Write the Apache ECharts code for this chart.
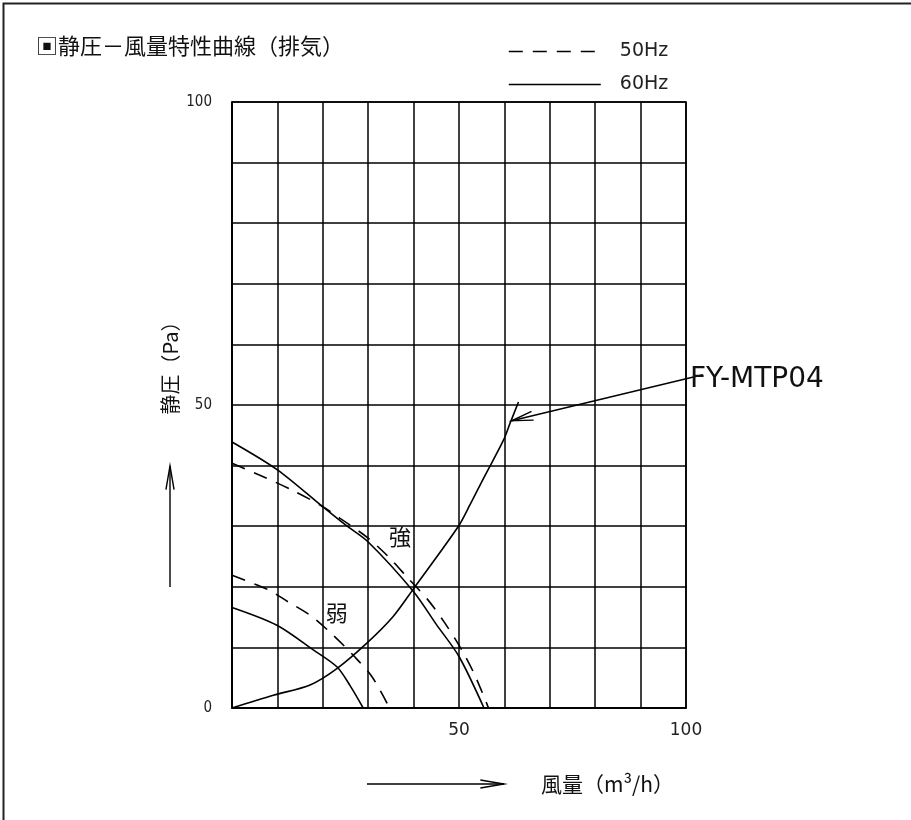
<!DOCTYPE html>
<html lang="ja">
<head>
<meta charset="UTF-8"/>
<script src="https://cdn.jsdelivr.net/npm/echarts@6/dist/echarts.min.js"></script>
<style>
  html, body { margin: 0; padding: 0; background: #fff; }
</style>
</head>
<body>
<div id="main" style="width: 911px;height:820px;"></div>
<script type="text/javascript">

    // 強 / 弱 の特性曲線（風量 m3/h, 静圧 Pa）
    var strong60X = [0, 10, 20, 25, 30, 40, 45, 50, 55.5];
    var strong60Y = [43.9, 39.3, 33.2, 30.2, 27.4, 19.2, 13.8, 8.5, 0];
    var strong50X = [0, 7.4, 13.1, 19.4, 23.8, 29.7, 34.4, 38.8, 43.2, 46.9, 50.6, 53.5, 56.5];
    var strong50Y = [40.4, 38, 36, 33.5, 31.3, 28.2, 25, 21.4, 17.8, 14, 9.6, 5.4, 0];
    var weak60X = [0, 9.8, 17.9, 23.1, 26, 28.9];
    var weak60Y = [16.6, 13.7, 9.6, 6.8, 3.7, 0];
    var weak50X = [0, 8, 12.4, 17.6, 22.3, 26.7, 30.8, 34.7];
    var weak50Y = [21.9, 19.5, 17.5, 15.1, 12, 8.7, 5.2, 0];
    // 機器の抵抗曲線 FY-MTP04
    var systemX = [0, 9.1, 17.2, 23.1, 29.7, 35.5, 40, 49.8, 52.4, 55.4, 59.8, 61.2, 63.1];
    var systemY = [0, 2.1, 3.8, 6.5, 10.7, 15.1, 19.7, 29.9, 33.5, 37.9, 44.2, 46.9, 50.5];

    var xTickLabels = ['50', '100'];
    var yTickLabels = ['0', '50', '100'];

    var titleText = '▣静圧－風量特性曲線（排気）';
    var xName = '風量（m³/h）';
    var yName = '静圧（Pa）';
    var modelName = 'FY-MTP04';

    var JP = '"Noto Sans CJK JP", "DejaVu Sans", sans-serif';
    var LAT = '"DejaVu Sans", sans-serif';

    function pairs(xs, ys) {
        return xs.map(function (x, i) { return [x, ys[i]]; });
    }

    function curve(name, xs, ys, dashed) {
        return {
            name: name,
            type: 'line',
            data: pairs(xs, ys),
            smooth: 0.3,
            symbol: 'none',
            clip: false,
            itemStyle: {color: '#000'},
            lineStyle: {color: '#000', width: 1.6, type: dashed ? [14, 10] : 'solid'},
            emphasis: {disabled: true}
        };
    }

    var myChart = echarts.init(document.getElementById('main'));

    var options = {
        animation: false,
        backgroundColor: '#fff',
        grid: {left: 232, top: 102, width: 454, height: 606, show: true, borderColor: '#000', borderWidth: 1.6},
        legend: {
            data: ['50Hz', '60Hz'],
            orient: 'vertical',
            left: 503,
            top: 37,
            itemWidth: 92,
            itemHeight: 12,
            itemGap: 14,
            selectedMode: false,
            itemStyle: {opacity: 0},
            lineStyle: {width: 1.6},
            textStyle: {fontSize: 19, fontFamily: LAT, color: '#222', padding: [0, 0, 0, 14]}
        },
        xAxis: {
            type: 'value', min: 0, max: 100, interval: 10,
            axisLine: {show: true, lineStyle: {color: '#000', width: 1.6}},
            axisTick: {show: false},
            splitLine: {show: true, lineStyle: {color: '#000', width: 1.5}},
            axisLabel: {
                margin: 14, fontSize: 17, fontFamily: LAT, color: '#222',
                formatter: function (v) { return xTickLabels.indexOf(String(v)) >= 0 ? String(v) : ''; }
            }
        },
        yAxis: {
            type: 'value', min: 0, max: 100, interval: 10,
            axisLine: {show: true, lineStyle: {color: '#000', width: 1.6}},
            axisTick: {show: false},
            splitLine: {show: true, lineStyle: {color: '#000', width: 1.5}},
            axisLabel: {
                margin: 20, fontSize: 15,
                fontFamily: '"Liberation Sans Narrow", "DejaVu Sans Condensed", sans-serif', color: '#222',
                formatter: function (v) { return yTickLabels.indexOf(String(v)) >= 0 ? String(v) : ''; }
            }
        },
        series: [
            curve('50Hz', strong50X, strong50Y, true),
            curve('50Hz', weak50X, weak50Y, true),
            curve('60Hz', strong60X, strong60Y, false),
            curve('60Hz', weak60X, weak60Y, false),
            curve(modelName, systemX, systemY, false)
        ]
    };

    myChart.setOption(options);

    // 注記（矢印・文字）
    function px(p) { return myChart.convertToPixel({gridIndex: 0}, p); }

    function arrowHead(tip, from, len, ang) {
        var a = Math.atan2(from[1] - tip[1], from[0] - tip[0]);
        return [
            [tip[0] + len * Math.cos(a + ang), tip[1] + len * Math.sin(a + ang)],
            tip,
            [tip[0] + len * Math.cos(a - ang), tip[1] + len * Math.sin(a - ang)]
        ];
    }

    var ln = {stroke: '#000', lineWidth: 1.4, fill: null};
    var tip = px([61.6, 47.4]);
    var start = px([103.7, 55]);
    var strongPos = px([37, 28.2]);
    var weakPos = px([23.1, 15.8]);

    var yArrowTip = [170, 466], yArrowFrom = [170, 587];
    var xArrowTip = [504, 784], xArrowFrom = [367, 784];

    myChart.setOption({
        graphic: [
            {type: 'polyline', shape: {points: [[3.5, 820], [3.5, 3.5], [911, 3.5]]}, style: {stroke: '#222', lineWidth: 2, fill: null}},
            {type: 'text', x: 36, y: 46, style: {text: titleText, fontSize: 22, fontFamily: JP, fill: '#111', verticalAlign: 'middle'}},
            {type: 'polyline', shape: {points: [start, tip]}, style: ln},
            {type: 'polyline', shape: {points: arrowHead(tip, start, 22, 0.21)}, style: ln},
            {type: 'text', x: 690, y: 380, style: {text: modelName, fontSize: 28, fontFamily: LAT, fill: '#111', verticalAlign: 'middle'}},
            {type: 'text', x: strongPos[0], y: strongPos[1], style: {text: '強', fontSize: 22, fontFamily: JP, fill: '#111', align: 'center', verticalAlign: 'middle'}},
            {type: 'text', x: weakPos[0], y: weakPos[1], style: {text: '弱', fontSize: 22, fontFamily: JP, fill: '#111', align: 'center', verticalAlign: 'middle'}},
            {type: 'polyline', shape: {points: [yArrowFrom, yArrowTip]}, style: ln},
            {type: 'polyline', shape: {points: arrowHead(yArrowTip, yArrowFrom, 24, 0.17)}, style: ln},
            {type: 'polyline', shape: {points: [xArrowFrom, xArrowTip]}, style: ln},
            {type: 'polyline', shape: {points: arrowHead(xArrowTip, xArrowFrom, 24, 0.17)}, style: ln},
            {type: 'text', x: 170, y: 363, rotation: Math.PI / 2, style: {text: yName, fontSize: 20, fontFamily: JP, fill: '#111', align: 'center', verticalAlign: 'middle'}},
            {type: 'text', x: 541, y: 784, style: {text: xName, fontSize: 21, fontFamily: JP, fill: '#111', verticalAlign: 'middle'}}
        ]
    });

</script>
</body>
</html>
